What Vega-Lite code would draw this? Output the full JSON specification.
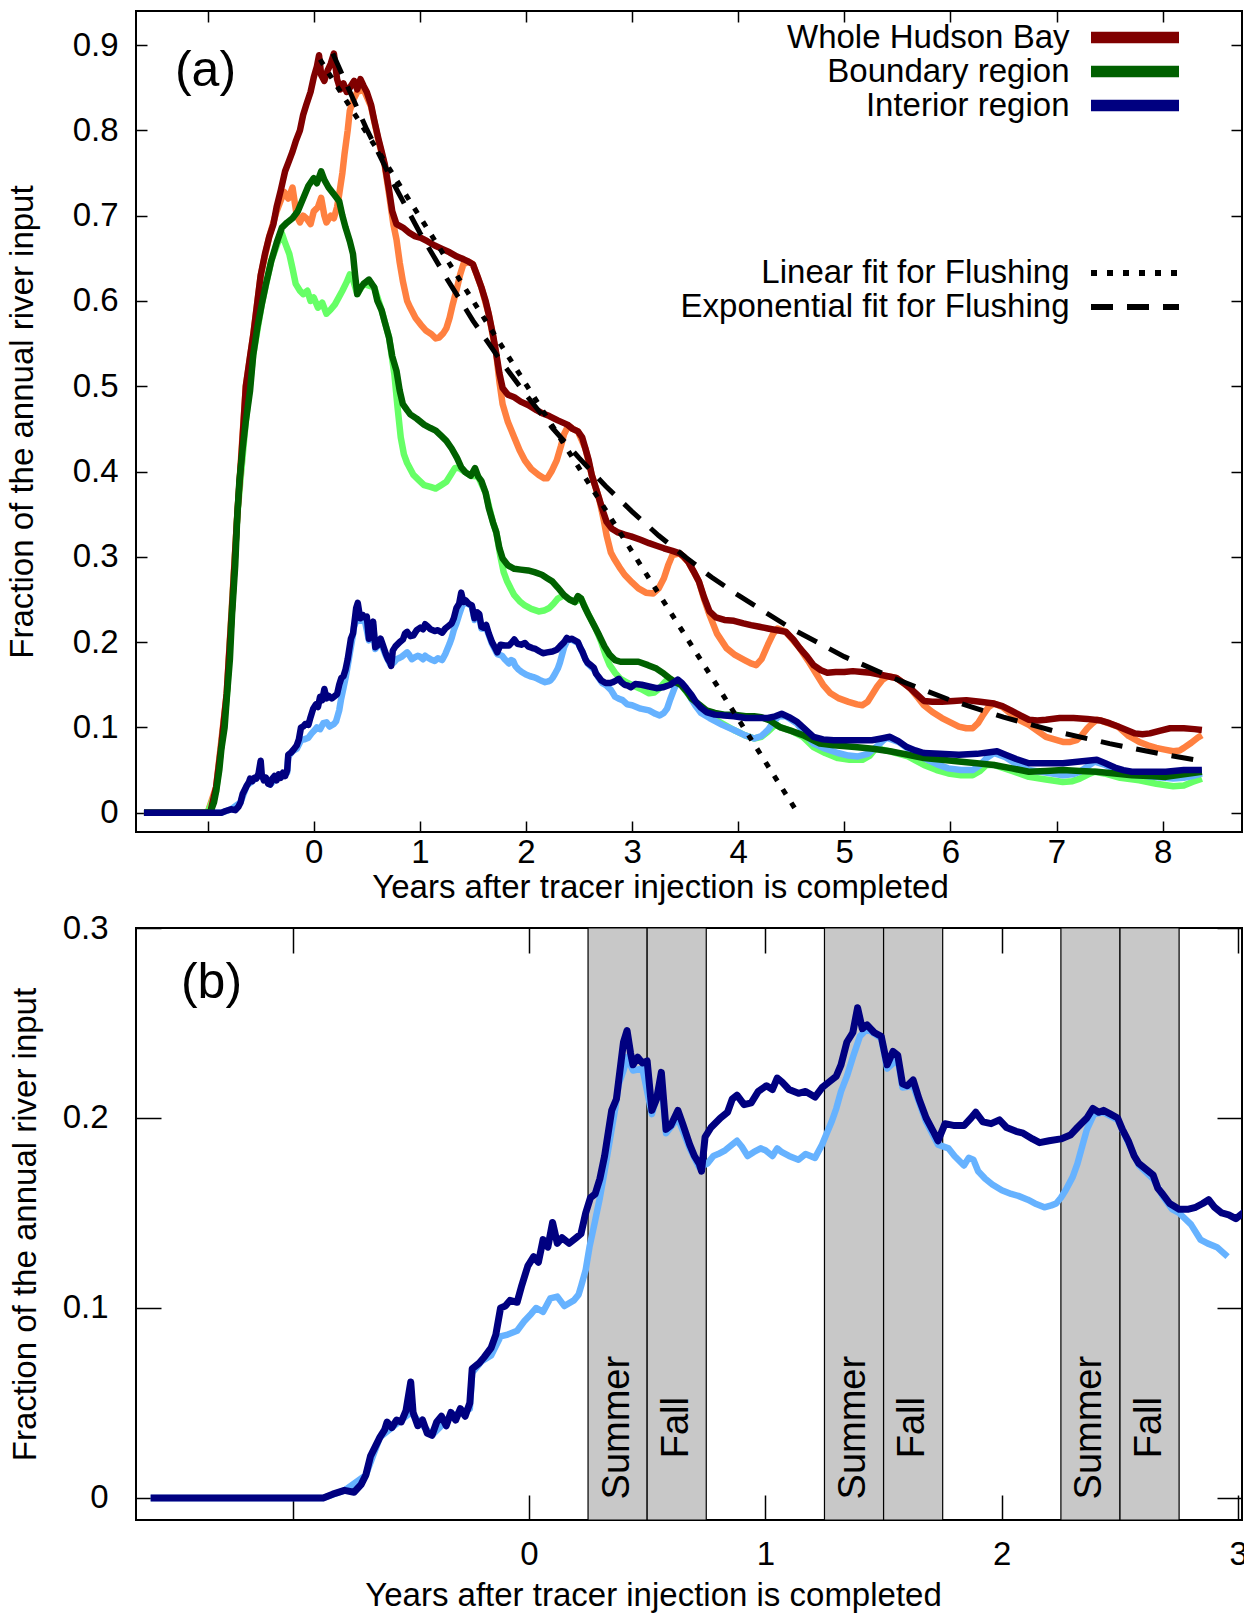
{
  "$schema": "https://vega.github.io/schema/vega-lite/v6.json",
  "background": "white",
  "padding": {"left": 5, "top": 9, "right": 0, "bottom": 0},
  "spacing": 6,
  "config": {
    "font": "Liberation Sans",
    "view": {"stroke": "black", "strokeWidth": 2},
    "axis": {"labelFont": "Liberation Sans", "labelFontSize": 33, "labelColor": "black", "titleFont": "Liberation Sans", "titleFontSize": 33, "titleFontWeight": "normal", "titleColor": "black", "tickColor": "black", "tickWidth": 1.5, "domain": false, "grid": false, "labelFlush": false, "labelOverlap": false},
    "text": {"font": "Liberation Sans", "color": "black"}
  },
  "resolve": {"scale": {"color": "independent", "strokeDash": "independent"}, "legend": {"color": "independent", "strokeDash": "independent"}},
  "datasets": {
    "W": [{"x":-1.6,"y":0},{"x":-1.0,"y":0},{"x":-0.97,"y":0.003},{"x":-0.92,"y":0.03},{"x":-0.87,"y":0.08},{"x":-0.82,"y":0.14},{"x":-0.77,"y":0.24},{"x":-0.72,"y":0.35},{"x":-0.68,"y":0.42},{"x":-0.64,"y":0.5},{"x":-0.6,"y":0.535},{"x":-0.57,"y":0.56},{"x":-0.53,"y":0.6},{"x":-0.5,"y":0.63},{"x":-0.46,"y":0.655},{"x":-0.42,"y":0.675},{"x":-0.38,"y":0.69},{"x":-0.35,"y":0.71},{"x":-0.31,"y":0.73},{"x":-0.27,"y":0.752},{"x":-0.23,"y":0.765},{"x":-0.2,"y":0.775},{"x":-0.17,"y":0.787},{"x":-0.13,"y":0.8},{"x":-0.1,"y":0.818},{"x":-0.07,"y":0.83},{"x":-0.03,"y":0.845},{"x":0,"y":0.862},{"x":0.03,"y":0.875},{"x":0.05,"y":0.888},{"x":0.07,"y":0.865},{"x":0.1,"y":0.858},{"x":0.13,"y":0.87},{"x":0.16,"y":0.878},{"x":0.19,"y":0.89},{"x":0.22,"y":0.86},{"x":0.25,"y":0.848},{"x":0.28,"y":0.855},{"x":0.31,"y":0.845},{"x":0.34,"y":0.85},{"x":0.38,"y":0.858},{"x":0.41,"y":0.848},{"x":0.44,"y":0.86},{"x":0.47,"y":0.852},{"x":0.5,"y":0.845},{"x":0.54,"y":0.83},{"x":0.57,"y":0.812},{"x":0.61,"y":0.79},{"x":0.64,"y":0.775},{"x":0.67,"y":0.76},{"x":0.71,"y":0.73},{"x":0.74,"y":0.705},{"x":0.78,"y":0.69},{"x":0.84,"y":0.686},{"x":0.9,"y":0.68},{"x":0.95,"y":0.676},{"x":1.01,"y":0.674},{"x":1.07,"y":0.67},{"x":1.14,"y":0.665},{"x":1.21,"y":0.661},{"x":1.28,"y":0.657},{"x":1.35,"y":0.652},{"x":1.41,"y":0.649},{"x":1.46,"y":0.646},{"x":1.5,"y":0.643},{"x":1.54,"y":0.63},{"x":1.58,"y":0.616},{"x":1.62,"y":0.6},{"x":1.65,"y":0.584},{"x":1.69,"y":0.56},{"x":1.72,"y":0.538},{"x":1.75,"y":0.515},{"x":1.78,"y":0.498},{"x":1.83,"y":0.49},{"x":1.89,"y":0.487},{"x":1.95,"y":0.482},{"x":2.02,"y":0.478},{"x":2.1,"y":0.472},{"x":2.16,"y":0.468},{"x":2.22,"y":0.465},{"x":2.3,"y":0.46},{"x":2.39,"y":0.455},{"x":2.44,"y":0.45},{"x":2.49,"y":0.447},{"x":2.53,"y":0.44},{"x":2.56,"y":0.427},{"x":2.59,"y":0.414},{"x":2.62,"y":0.396},{"x":2.66,"y":0.38},{"x":2.69,"y":0.368},{"x":2.73,"y":0.352},{"x":2.76,"y":0.341},{"x":2.81,"y":0.333},{"x":2.86,"y":0.329},{"x":2.93,"y":0.326},{"x":2.99,"y":0.324},{"x":3.08,"y":0.32},{"x":3.16,"y":0.316},{"x":3.23,"y":0.313},{"x":3.3,"y":0.31},{"x":3.38,"y":0.307},{"x":3.45,"y":0.304},{"x":3.49,"y":0.3},{"x":3.53,"y":0.294},{"x":3.58,"y":0.283},{"x":3.63,"y":0.271},{"x":3.68,"y":0.252},{"x":3.73,"y":0.236},{"x":3.79,"y":0.229},{"x":3.87,"y":0.226},{"x":3.96,"y":0.225},{"x":4.05,"y":0.222},{"x":4.12,"y":0.22},{"x":4.2,"y":0.218},{"x":4.28,"y":0.216},{"x":4.37,"y":0.214},{"x":4.45,"y":0.212},{"x":4.52,"y":0.203},{"x":4.58,"y":0.193},{"x":4.65,"y":0.183},{"x":4.71,"y":0.173},{"x":4.78,"y":0.167},{"x":4.84,"y":0.164},{"x":4.92,"y":0.165},{"x":5,"y":0.165},{"x":5.08,"y":0.166},{"x":5.17,"y":0.165},{"x":5.25,"y":0.164},{"x":5.33,"y":0.162},{"x":5.41,"y":0.16},{"x":5.49,"y":0.158},{"x":5.56,"y":0.152},{"x":5.62,"y":0.146},{"x":5.69,"y":0.138},{"x":5.75,"y":0.131},{"x":5.83,"y":0.13},{"x":5.92,"y":0.13},{"x":6.03,"y":0.131},{"x":6.15,"y":0.132},{"x":6.28,"y":0.13},{"x":6.41,"y":0.128},{"x":6.49,"y":0.125},{"x":6.57,"y":0.12},{"x":6.66,"y":0.114},{"x":6.74,"y":0.109},{"x":6.82,"y":0.108},{"x":6.9,"y":0.109},{"x":7.03,"y":0.111},{"x":7.16,"y":0.111},{"x":7.29,"y":0.11},{"x":7.42,"y":0.108},{"x":7.5,"y":0.105},{"x":7.58,"y":0.101},{"x":7.66,"y":0.097},{"x":7.74,"y":0.093},{"x":7.81,"y":0.092},{"x":7.88,"y":0.093},{"x":7.97,"y":0.096},{"x":8.07,"y":0.099},{"x":8.2,"y":0.099},{"x":8.3,"y":0.098},{"x":8.37,"y":0.097}],
    "Wl": [{"x":-1.6,"y":0},{"x":-1.0,"y":0},{"x":-0.92,"y":0.03},{"x":-0.82,"y":0.14},{"x":-0.72,"y":0.35},{"x":-0.64,"y":0.5},{"x":-0.57,"y":0.56},{"x":-0.5,"y":0.63},{"x":-0.42,"y":0.675},{"x":-0.35,"y":0.705},{"x":-0.28,"y":0.728},{"x":-0.24,"y":0.72},{"x":-0.2,"y":0.733},{"x":-0.16,"y":0.7},{"x":-0.13,"y":0.692},{"x":-0.1,"y":0.7},{"x":-0.07,"y":0.697},{"x":-0.03,"y":0.69},{"x":0,"y":0.705},{"x":0.04,"y":0.71},{"x":0.07,"y":0.721},{"x":0.1,"y":0.7},{"x":0.12,"y":0.692},{"x":0.16,"y":0.7},{"x":0.19,"y":0.697},{"x":0.22,"y":0.71},{"x":0.24,"y":0.725},{"x":0.27,"y":0.75},{"x":0.29,"y":0.772},{"x":0.32,"y":0.8},{"x":0.34,"y":0.823},{"x":0.37,"y":0.835},{"x":0.41,"y":0.845},{"x":0.47,"y":0.848},{"x":0.54,"y":0.828},{"x":0.61,"y":0.788},{"x":0.67,"y":0.758},{"x":0.71,"y":0.725},{"x":0.75,"y":0.69},{"x":0.78,"y":0.672},{"x":0.81,"y":0.645},{"x":0.84,"y":0.623},{"x":0.88,"y":0.6},{"x":0.91,"y":0.592},{"x":0.96,"y":0.58},{"x":1.01,"y":0.572},{"x":1.06,"y":0.565},{"x":1.11,"y":0.561},{"x":1.15,"y":0.556},{"x":1.18,"y":0.557},{"x":1.22,"y":0.562},{"x":1.25,"y":0.568},{"x":1.28,"y":0.58},{"x":1.31,"y":0.596},{"x":1.35,"y":0.615},{"x":1.38,"y":0.631},{"x":1.41,"y":0.643},{"x":1.46,"y":0.646},{"x":1.5,"y":0.643},{"x":1.58,"y":0.616},{"x":1.65,"y":0.584},{"x":1.72,"y":0.538},{"x":1.75,"y":0.505},{"x":1.78,"y":0.479},{"x":1.83,"y":0.458},{"x":1.89,"y":0.44},{"x":1.94,"y":0.425},{"x":1.99,"y":0.413},{"x":2.05,"y":0.403},{"x":2.12,"y":0.396},{"x":2.17,"y":0.392},{"x":2.2,"y":0.392},{"x":2.24,"y":0.4},{"x":2.29,"y":0.413},{"x":2.33,"y":0.43},{"x":2.36,"y":0.444},{"x":2.4,"y":0.454},{"x":2.44,"y":0.45},{"x":2.49,"y":0.447},{"x":2.56,"y":0.427},{"x":2.62,"y":0.396},{"x":2.69,"y":0.368},{"x":2.73,"y":0.345},{"x":2.76,"y":0.325},{"x":2.8,"y":0.305},{"x":2.83,"y":0.298},{"x":2.88,"y":0.288},{"x":2.93,"y":0.279},{"x":3,"y":0.27},{"x":3.06,"y":0.263},{"x":3.13,"y":0.258},{"x":3.2,"y":0.257},{"x":3.25,"y":0.263},{"x":3.3,"y":0.275},{"x":3.34,"y":0.29},{"x":3.38,"y":0.302},{"x":3.45,"y":0.304},{"x":3.53,"y":0.294},{"x":3.63,"y":0.271},{"x":3.68,"y":0.25},{"x":3.73,"y":0.232},{"x":3.8,"y":0.21},{"x":3.89,"y":0.193},{"x":3.97,"y":0.185},{"x":4.06,"y":0.179},{"x":4.12,"y":0.175},{"x":4.17,"y":0.173},{"x":4.22,"y":0.18},{"x":4.28,"y":0.197},{"x":4.33,"y":0.21},{"x":4.37,"y":0.216},{"x":4.45,"y":0.212},{"x":4.58,"y":0.193},{"x":4.66,"y":0.178},{"x":4.74,"y":0.162},{"x":4.8,"y":0.15},{"x":4.87,"y":0.14},{"x":4.95,"y":0.134},{"x":5.04,"y":0.13},{"x":5.12,"y":0.127},{"x":5.17,"y":0.126},{"x":5.22,"y":0.13},{"x":5.26,"y":0.138},{"x":5.31,"y":0.148},{"x":5.36,"y":0.156},{"x":5.41,"y":0.16},{"x":5.49,"y":0.158},{"x":5.62,"y":0.146},{"x":5.7,"y":0.134},{"x":5.75,"y":0.126},{"x":5.83,"y":0.118},{"x":5.92,"y":0.111},{"x":6,"y":0.106},{"x":6.08,"y":0.101},{"x":6.15,"y":0.099},{"x":6.21,"y":0.099},{"x":6.26,"y":0.105},{"x":6.31,"y":0.115},{"x":6.36,"y":0.124},{"x":6.41,"y":0.128},{"x":6.49,"y":0.124},{"x":6.57,"y":0.116},{"x":6.66,"y":0.108},{"x":6.74,"y":0.103},{"x":6.82,"y":0.096},{"x":6.9,"y":0.089},{"x":6.98,"y":0.086},{"x":7.06,"y":0.083},{"x":7.13,"y":0.083},{"x":7.19,"y":0.085},{"x":7.24,"y":0.091},{"x":7.29,"y":0.099},{"x":7.34,"y":0.105},{"x":7.38,"y":0.109},{"x":7.42,"y":0.108},{"x":7.58,"y":0.101},{"x":7.68,"y":0.09},{"x":7.78,"y":0.083},{"x":7.86,"y":0.079},{"x":7.94,"y":0.076},{"x":8.02,"y":0.074},{"x":8.1,"y":0.072},{"x":8.16,"y":0.073},{"x":8.2,"y":0.076},{"x":8.27,"y":0.082},{"x":8.33,"y":0.088},{"x":8.37,"y":0.091}],
    "B": [{"x":-1.6,"y":0},{"x":-1.0,"y":0},{"x":-0.97,"y":0.002},{"x":-0.94,"y":0.012},{"x":-0.92,"y":0.025},{"x":-0.89,"y":0.05},{"x":-0.87,"y":0.075},{"x":-0.84,"y":0.1},{"x":-0.82,"y":0.134},{"x":-0.79,"y":0.18},{"x":-0.77,"y":0.232},{"x":-0.74,"y":0.29},{"x":-0.72,"y":0.349},{"x":-0.7,"y":0.39},{"x":-0.67,"y":0.427},{"x":-0.64,"y":0.459},{"x":-0.6,"y":0.495},{"x":-0.57,"y":0.537},{"x":-0.53,"y":0.57},{"x":-0.49,"y":0.596},{"x":-0.45,"y":0.62},{"x":-0.4,"y":0.647},{"x":-0.35,"y":0.668},{"x":-0.3,"y":0.686},{"x":-0.25,"y":0.692},{"x":-0.2,"y":0.697},{"x":-0.15,"y":0.705},{"x":-0.1,"y":0.72},{"x":-0.05,"y":0.735},{"x":0,"y":0.744},{"x":0.03,"y":0.738},{"x":0.07,"y":0.752},{"x":0.1,"y":0.742},{"x":0.14,"y":0.733},{"x":0.19,"y":0.725},{"x":0.24,"y":0.717},{"x":0.27,"y":0.7},{"x":0.3,"y":0.686},{"x":0.34,"y":0.67},{"x":0.37,"y":0.655},{"x":0.39,"y":0.63},{"x":0.41,"y":0.608},{"x":0.44,"y":0.615},{"x":0.47,"y":0.62},{"x":0.52,"y":0.625},{"x":0.57,"y":0.616},{"x":0.6,"y":0.6},{"x":0.64,"y":0.589},{"x":0.67,"y":0.575},{"x":0.71,"y":0.557},{"x":0.74,"y":0.535},{"x":0.78,"y":0.518},{"x":0.81,"y":0.495},{"x":0.84,"y":0.479},{"x":0.88,"y":0.472},{"x":0.91,"y":0.467},{"x":0.97,"y":0.462},{"x":1.04,"y":0.455},{"x":1.1,"y":0.451},{"x":1.15,"y":0.448},{"x":1.2,"y":0.442},{"x":1.25,"y":0.436},{"x":1.3,"y":0.427},{"x":1.35,"y":0.416},{"x":1.39,"y":0.405},{"x":1.43,"y":0.399},{"x":1.48,"y":0.395},{"x":1.52,"y":0.404},{"x":1.55,"y":0.394},{"x":1.58,"y":0.389},{"x":1.62,"y":0.375},{"x":1.65,"y":0.357},{"x":1.69,"y":0.34},{"x":1.72,"y":0.329},{"x":1.75,"y":0.31},{"x":1.78,"y":0.298},{"x":1.83,"y":0.29},{"x":1.89,"y":0.286},{"x":1.95,"y":0.285},{"x":2.02,"y":0.284},{"x":2.08,"y":0.282},{"x":2.15,"y":0.279},{"x":2.2,"y":0.275},{"x":2.25,"y":0.271},{"x":2.3,"y":0.264},{"x":2.36,"y":0.255},{"x":2.41,"y":0.25},{"x":2.46,"y":0.247},{"x":2.49,"y":0.254},{"x":2.52,"y":0.251},{"x":2.55,"y":0.242},{"x":2.59,"y":0.232},{"x":2.64,"y":0.22},{"x":2.69,"y":0.208},{"x":2.74,"y":0.195},{"x":2.79,"y":0.185},{"x":2.84,"y":0.179},{"x":2.89,"y":0.177},{"x":2.97,"y":0.177},{"x":3.06,"y":0.177},{"x":3.15,"y":0.173},{"x":3.23,"y":0.169},{"x":3.3,"y":0.163},{"x":3.36,"y":0.157},{"x":3.41,"y":0.153},{"x":3.46,"y":0.15},{"x":3.51,"y":0.143},{"x":3.56,"y":0.134},{"x":3.63,"y":0.127},{"x":3.7,"y":0.12},{"x":3.78,"y":0.117},{"x":3.87,"y":0.115},{"x":3.96,"y":0.115},{"x":4.07,"y":0.113},{"x":4.15,"y":0.113},{"x":4.22,"y":0.112},{"x":4.3,"y":0.108},{"x":4.36,"y":0.103},{"x":4.4,"y":0.1},{"x":4.5,"y":0.096},{"x":4.61,"y":0.091},{"x":4.69,"y":0.086},{"x":4.77,"y":0.081},{"x":4.9,"y":0.079},{"x":5.1,"y":0.077},{"x":5.27,"y":0.075},{"x":5.43,"y":0.072},{"x":5.6,"y":0.068},{"x":5.75,"y":0.064},{"x":5.92,"y":0.062},{"x":6.08,"y":0.06},{"x":6.25,"y":0.058},{"x":6.41,"y":0.056},{"x":6.58,"y":0.052},{"x":6.74,"y":0.048},{"x":6.9,"y":0.049},{"x":7.06,"y":0.05},{"x":7.22,"y":0.049},{"x":7.38,"y":0.048},{"x":7.55,"y":0.046},{"x":7.71,"y":0.044},{"x":7.87,"y":0.043},{"x":8.03,"y":0.042},{"x":8.2,"y":0.045},{"x":8.37,"y":0.048}],
    "Bl": [{"x":-1.6,"y":0},{"x":-1.0,"y":0},{"x":-0.92,"y":0.025},{"x":-0.82,"y":0.134},{"x":-0.72,"y":0.349},{"x":-0.64,"y":0.459},{"x":-0.57,"y":0.537},{"x":-0.49,"y":0.596},{"x":-0.4,"y":0.647},{"x":-0.34,"y":0.668},{"x":-0.3,"y":0.679},{"x":-0.27,"y":0.668},{"x":-0.23,"y":0.655},{"x":-0.2,"y":0.638},{"x":-0.17,"y":0.62},{"x":-0.13,"y":0.612},{"x":-0.1,"y":0.608},{"x":-0.06,"y":0.612},{"x":-0.03,"y":0.6},{"x":0,"y":0.604},{"x":0.04,"y":0.592},{"x":0.08,"y":0.598},{"x":0.12,"y":0.585},{"x":0.16,"y":0.59},{"x":0.2,"y":0.596},{"x":0.24,"y":0.605},{"x":0.27,"y":0.612},{"x":0.31,"y":0.622},{"x":0.34,"y":0.631},{"x":0.37,"y":0.625},{"x":0.41,"y":0.608},{"x":0.47,"y":0.62},{"x":0.57,"y":0.616},{"x":0.64,"y":0.589},{"x":0.71,"y":0.557},{"x":0.76,"y":0.514},{"x":0.79,"y":0.475},{"x":0.82,"y":0.44},{"x":0.85,"y":0.42},{"x":0.88,"y":0.41},{"x":0.94,"y":0.396},{"x":0.99,"y":0.39},{"x":1.04,"y":0.384},{"x":1.1,"y":0.382},{"x":1.15,"y":0.38},{"x":1.2,"y":0.384},{"x":1.25,"y":0.388},{"x":1.29,"y":0.396},{"x":1.33,"y":0.404},{"x":1.37,"y":0.404},{"x":1.43,"y":0.399},{"x":1.48,"y":0.395},{"x":1.55,"y":0.394},{"x":1.62,"y":0.375},{"x":1.69,"y":0.34},{"x":1.72,"y":0.329},{"x":1.76,"y":0.3},{"x":1.79,"y":0.282},{"x":1.82,"y":0.272},{"x":1.86,"y":0.262},{"x":1.89,"y":0.255},{"x":1.94,"y":0.248},{"x":1.99,"y":0.243},{"x":2.05,"y":0.239},{"x":2.12,"y":0.236},{"x":2.17,"y":0.237},{"x":2.22,"y":0.24},{"x":2.26,"y":0.245},{"x":2.3,"y":0.251},{"x":2.36,"y":0.255},{"x":2.41,"y":0.25},{"x":2.46,"y":0.247},{"x":2.52,"y":0.251},{"x":2.59,"y":0.232},{"x":2.66,"y":0.215},{"x":2.71,"y":0.2},{"x":2.75,"y":0.185},{"x":2.79,"y":0.173},{"x":2.84,"y":0.164},{"x":2.89,"y":0.157},{"x":2.96,"y":0.152},{"x":3.03,"y":0.148},{"x":3.1,"y":0.144},{"x":3.16,"y":0.14},{"x":3.21,"y":0.141},{"x":3.26,"y":0.146},{"x":3.3,"y":0.152},{"x":3.34,"y":0.157},{"x":3.41,"y":0.153},{"x":3.46,"y":0.15},{"x":3.56,"y":0.134},{"x":3.63,"y":0.124},{"x":3.7,"y":0.115},{"x":3.76,"y":0.111},{"x":3.86,"y":0.104},{"x":3.96,"y":0.097},{"x":4.06,"y":0.091},{"x":4.15,"y":0.087},{"x":4.22,"y":0.089},{"x":4.28,"y":0.095},{"x":4.33,"y":0.101},{"x":4.36,"y":0.103},{"x":4.4,"y":0.1},{"x":4.5,"y":0.096},{"x":4.61,"y":0.089},{"x":4.71,"y":0.077},{"x":4.82,"y":0.07},{"x":4.94,"y":0.064},{"x":5.05,"y":0.062},{"x":5.17,"y":0.062},{"x":5.24,"y":0.067},{"x":5.3,"y":0.076},{"x":5.36,"y":0.074},{"x":5.43,"y":0.072},{"x":5.6,"y":0.066},{"x":5.75,"y":0.056},{"x":5.87,"y":0.05},{"x":5.98,"y":0.046},{"x":6.1,"y":0.044},{"x":6.21,"y":0.044},{"x":6.28,"y":0.049},{"x":6.34,"y":0.056},{"x":6.41,"y":0.056},{"x":6.58,"y":0.049},{"x":6.74,"y":0.042},{"x":6.9,"y":0.039},{"x":7.06,"y":0.036},{"x":7.15,"y":0.037},{"x":7.22,"y":0.04},{"x":7.3,"y":0.045},{"x":7.36,"y":0.048},{"x":7.45,"y":0.046},{"x":7.6,"y":0.041},{"x":7.78,"y":0.038},{"x":7.94,"y":0.034},{"x":8.1,"y":0.031},{"x":8.2,"y":0.032},{"x":8.28,"y":0.036},{"x":8.37,"y":0.04}],
    "I": [{"x":-1.6,"y":0},{"x":-0.87,"y":0},{"x":-0.83,"y":0.002},{"x":-0.78,"y":0.004},{"x":-0.74,"y":0.003},{"x":-0.71,"y":0.007},{"x":-0.69,"y":0.012},{"x":-0.67,"y":0.022},{"x":-0.65,"y":0.027},{"x":-0.63,"y":0.032},{"x":-0.61,"y":0.036},{"x":-0.6,"y":0.04},{"x":-0.58,"y":0.037},{"x":-0.56,"y":0.041},{"x":-0.54,"y":0.04},{"x":-0.52,"y":0.046},{"x":-0.5,"y":0.061},{"x":-0.49,"y":0.045},{"x":-0.47,"y":0.038},{"x":-0.45,"y":0.041},{"x":-0.43,"y":0.034},{"x":-0.41,"y":0.033},{"x":-0.39,"y":0.04},{"x":-0.37,"y":0.043},{"x":-0.35,"y":0.038},{"x":-0.33,"y":0.045},{"x":-0.31,"y":0.041},{"x":-0.29,"y":0.047},{"x":-0.27,"y":0.043},{"x":-0.25,"y":0.05},{"x":-0.24,"y":0.068},{"x":-0.21,"y":0.071},{"x":-0.19,"y":0.074},{"x":-0.16,"y":0.079},{"x":-0.14,"y":0.086},{"x":-0.12,"y":0.1},{"x":-0.1,"y":0.101},{"x":-0.08,"y":0.104},{"x":-0.05,"y":0.103},{"x":-0.03,"y":0.112},{"x":-0.005,"y":0.122},{"x":0.02,"y":0.127},{"x":0.04,"y":0.124},{"x":0.06,"y":0.136},{"x":0.08,"y":0.132},{"x":0.1,"y":0.145},{"x":0.12,"y":0.134},{"x":0.14,"y":0.137},{"x":0.17,"y":0.134},{"x":0.2,"y":0.137},{"x":0.22,"y":0.139},{"x":0.24,"y":0.15},{"x":0.26,"y":0.158},{"x":0.28,"y":0.16},{"x":0.3,"y":0.168},{"x":0.32,"y":0.18},{"x":0.35,"y":0.204},{"x":0.37,"y":0.21},{"x":0.39,"y":0.23},{"x":0.4,"y":0.24},{"x":0.415,"y":0.246},{"x":0.43,"y":0.234},{"x":0.44,"y":0.228},{"x":0.46,"y":0.232},{"x":0.48,"y":0.229},{"x":0.5,"y":0.23},{"x":0.52,"y":0.204},{"x":0.54,"y":0.21},{"x":0.56,"y":0.224},{"x":0.58,"y":0.194},{"x":0.6,"y":0.196},{"x":0.63,"y":0.204},{"x":0.65,"y":0.197},{"x":0.68,"y":0.186},{"x":0.7,"y":0.18},{"x":0.72,"y":0.176},{"x":0.73,"y":0.172},{"x":0.745,"y":0.19},{"x":0.77,"y":0.195},{"x":0.81,"y":0.2},{"x":0.84,"y":0.203},{"x":0.86,"y":0.21},{"x":0.88,"y":0.212},{"x":0.91,"y":0.207},{"x":0.94,"y":0.208},{"x":0.97,"y":0.214},{"x":1.005,"y":0.217},{"x":1.03,"y":0.215},{"x":1.05,"y":0.221},{"x":1.07,"y":0.219},{"x":1.1,"y":0.215},{"x":1.14,"y":0.213},{"x":1.17,"y":0.214},{"x":1.21,"y":0.211},{"x":1.24,"y":0.216},{"x":1.27,"y":0.219},{"x":1.3,"y":0.222},{"x":1.32,"y":0.228},{"x":1.345,"y":0.24},{"x":1.37,"y":0.245},{"x":1.39,"y":0.258},{"x":1.41,"y":0.247},{"x":1.43,"y":0.249},{"x":1.46,"y":0.245},{"x":1.49,"y":0.243},{"x":1.515,"y":0.228},{"x":1.54,"y":0.235},{"x":1.56,"y":0.233},{"x":1.58,"y":0.218},{"x":1.6,"y":0.217},{"x":1.625,"y":0.22},{"x":1.65,"y":0.21},{"x":1.68,"y":0.2},{"x":1.71,"y":0.193},{"x":1.73,"y":0.188},{"x":1.76,"y":0.197},{"x":1.8,"y":0.196},{"x":1.84,"y":0.196},{"x":1.87,"y":0.2},{"x":1.89,"y":0.203},{"x":1.92,"y":0.198},{"x":1.955,"y":0.197},{"x":1.99,"y":0.199},{"x":2.02,"y":0.195},{"x":2.06,"y":0.193},{"x":2.09,"y":0.192},{"x":2.13,"y":0.189},{"x":2.16,"y":0.187},{"x":2.2,"y":0.188},{"x":2.25,"y":0.189},{"x":2.29,"y":0.191},{"x":2.32,"y":0.195},{"x":2.36,"y":0.2},{"x":2.385,"y":0.205},{"x":2.41,"y":0.203},{"x":2.43,"y":0.204},{"x":2.46,"y":0.202},{"x":2.49,"y":0.2},{"x":2.51,"y":0.194},{"x":2.535,"y":0.188},{"x":2.56,"y":0.18},{"x":2.58,"y":0.176},{"x":2.61,"y":0.173},{"x":2.64,"y":0.17},{"x":2.66,"y":0.163},{"x":2.68,"y":0.16},{"x":2.71,"y":0.155},{"x":2.75,"y":0.152},{"x":2.79,"y":0.152},{"x":2.82,"y":0.153},{"x":2.85,"y":0.155},{"x":2.875,"y":0.157},{"x":2.9,"y":0.153},{"x":2.93,"y":0.15},{"x":2.96,"y":0.149},{"x":2.99,"y":0.147},{"x":3.03,"y":0.151},{"x":3.09,"y":0.15},{"x":3.16,"y":0.148},{"x":3.23,"y":0.146},{"x":3.29,"y":0.147},{"x":3.36,"y":0.15},{"x":3.43,"y":0.156},{"x":3.47,"y":0.152},{"x":3.51,"y":0.146},{"x":3.56,"y":0.138},{"x":3.6,"y":0.13},{"x":3.65,"y":0.123},{"x":3.7,"y":0.118},{"x":3.78,"y":0.115},{"x":3.87,"y":0.114},{"x":3.96,"y":0.113},{"x":4.07,"y":0.111},{"x":4.17,"y":0.111},{"x":4.28,"y":0.111},{"x":4.35,"y":0.113},{"x":4.41,"y":0.116},{"x":4.48,"y":0.112},{"x":4.55,"y":0.107},{"x":4.63,"y":0.098},{"x":4.71,"y":0.089},{"x":4.8,"y":0.086},{"x":4.9,"y":0.085},{"x":5,"y":0.085},{"x":5.13,"y":0.085},{"x":5.26,"y":0.085},{"x":5.35,"y":0.087},{"x":5.43,"y":0.089},{"x":5.51,"y":0.084},{"x":5.59,"y":0.077},{"x":5.67,"y":0.073},{"x":5.75,"y":0.07},{"x":5.9,"y":0.069},{"x":6.08,"y":0.068},{"x":6.25,"y":0.069},{"x":6.37,"y":0.071},{"x":6.44,"y":0.072},{"x":6.52,"y":0.068},{"x":6.62,"y":0.063},{"x":6.74,"y":0.058},{"x":6.9,"y":0.058},{"x":7.06,"y":0.058},{"x":7.22,"y":0.06},{"x":7.38,"y":0.062},{"x":7.46,"y":0.058},{"x":7.55,"y":0.053},{"x":7.63,"y":0.05},{"x":7.71,"y":0.048},{"x":7.87,"y":0.048},{"x":8.03,"y":0.048},{"x":8.2,"y":0.05},{"x":8.37,"y":0.05}],
    "Il": [{"x":-1.6,"y":0},{"x":-0.87,"y":0},{"x":-0.78,"y":0.004},{"x":-0.69,"y":0.012},{"x":-0.63,"y":0.032},{"x":-0.58,"y":0.037},{"x":-0.5,"y":0.045},{"x":-0.41,"y":0.033},{"x":-0.33,"y":0.043},{"x":-0.25,"y":0.047},{"x":-0.24,"y":0.066},{"x":-0.2,"y":0.072},{"x":-0.16,"y":0.075},{"x":-0.12,"y":0.085},{"x":-0.09,"y":0.086},{"x":-0.05,"y":0.088},{"x":-0.02,"y":0.093},{"x":0.01,"y":0.097},{"x":0.03,"y":0.1},{"x":0.06,"y":0.098},{"x":0.09,"y":0.105},{"x":0.12,"y":0.106},{"x":0.15,"y":0.101},{"x":0.19,"y":0.104},{"x":0.21,"y":0.107},{"x":0.222,"y":0.112},{"x":0.24,"y":0.12},{"x":0.256,"y":0.132},{"x":0.28,"y":0.146},{"x":0.3,"y":0.158},{"x":0.32,"y":0.172},{"x":0.347,"y":0.192},{"x":0.365,"y":0.205},{"x":0.38,"y":0.218},{"x":0.4,"y":0.225},{"x":0.415,"y":0.232},{"x":0.44,"y":0.225},{"x":0.48,"y":0.226},{"x":0.52,"y":0.202},{"x":0.56,"y":0.22},{"x":0.58,"y":0.192},{"x":0.63,"y":0.2},{"x":0.68,"y":0.184},{"x":0.72,"y":0.174},{"x":0.755,"y":0.176},{"x":0.78,"y":0.18},{"x":0.8,"y":0.181},{"x":0.83,"y":0.183},{"x":0.86,"y":0.186},{"x":0.88,"y":0.188},{"x":0.9,"y":0.185},{"x":0.925,"y":0.18},{"x":0.95,"y":0.182},{"x":0.98,"y":0.184},{"x":1.0,"y":0.183},{"x":1.03,"y":0.18},{"x":1.05,"y":0.184},{"x":1.07,"y":0.182},{"x":1.1,"y":0.18},{"x":1.14,"y":0.178},{"x":1.17,"y":0.181},{"x":1.21,"y":0.179},{"x":1.24,"y":0.186},{"x":1.28,"y":0.198},{"x":1.3,"y":0.205},{"x":1.32,"y":0.214},{"x":1.345,"y":0.222},{"x":1.37,"y":0.232},{"x":1.4,"y":0.243},{"x":1.43,"y":0.247},{"x":1.49,"y":0.242},{"x":1.515,"y":0.226},{"x":1.56,"y":0.231},{"x":1.58,"y":0.216},{"x":1.625,"y":0.217},{"x":1.68,"y":0.198},{"x":1.73,"y":0.186},{"x":1.775,"y":0.184},{"x":1.8,"y":0.18},{"x":1.84,"y":0.175},{"x":1.86,"y":0.179},{"x":1.88,"y":0.178},{"x":1.9,"y":0.172},{"x":1.93,"y":0.168},{"x":1.96,"y":0.165},{"x":2.0,"y":0.162},{"x":2.04,"y":0.16},{"x":2.07,"y":0.159},{"x":2.11,"y":0.157},{"x":2.14,"y":0.155},{"x":2.18,"y":0.153},{"x":2.21,"y":0.154},{"x":2.23,"y":0.155},{"x":2.25,"y":0.158},{"x":2.27,"y":0.162},{"x":2.3,"y":0.169},{"x":2.32,"y":0.176},{"x":2.34,"y":0.185},{"x":2.36,"y":0.194},{"x":2.39,"y":0.202},{"x":2.43,"y":0.203},{"x":2.49,"y":0.199},{"x":2.535,"y":0.187},{"x":2.58,"y":0.175},{"x":2.64,"y":0.168},{"x":2.68,"y":0.159},{"x":2.72,"y":0.152},{"x":2.75,"y":0.15},{"x":2.8,"y":0.144},{"x":2.84,"y":0.136},{"x":2.87,"y":0.134},{"x":2.91,"y":0.132},{"x":2.955,"y":0.127},{"x":3.0,"y":0.126},{"x":3.08,"y":0.122},{"x":3.16,"y":0.12},{"x":3.22,"y":0.116},{"x":3.26,"y":0.114},{"x":3.3,"y":0.117},{"x":3.33,"y":0.122},{"x":3.36,"y":0.133},{"x":3.4,"y":0.146},{"x":3.43,"y":0.154},{"x":3.47,"y":0.151},{"x":3.51,"y":0.145},{"x":3.56,"y":0.133},{"x":3.6,"y":0.125},{"x":3.65,"y":0.117},{"x":3.73,"y":0.111},{"x":3.85,"y":0.103},{"x":3.96,"y":0.097},{"x":4.06,"y":0.091},{"x":4.15,"y":0.087},{"x":4.22,"y":0.09},{"x":4.28,"y":0.097},{"x":4.33,"y":0.106},{"x":4.38,"y":0.113},{"x":4.45,"y":0.113},{"x":4.55,"y":0.105},{"x":4.63,"y":0.093},{"x":4.71,"y":0.081},{"x":4.82,"y":0.075},{"x":4.94,"y":0.07},{"x":5.04,"y":0.067},{"x":5.13,"y":0.066},{"x":5.22,"y":0.069},{"x":5.3,"y":0.077},{"x":5.36,"y":0.084},{"x":5.4,"y":0.088},{"x":5.51,"y":0.083},{"x":5.59,"y":0.076},{"x":5.67,"y":0.069},{"x":5.75,"y":0.064},{"x":5.87,"y":0.057},{"x":5.98,"y":0.052},{"x":6.1,"y":0.05},{"x":6.21,"y":0.05},{"x":6.28,"y":0.056},{"x":6.34,"y":0.064},{"x":6.41,"y":0.07},{"x":6.52,"y":0.065},{"x":6.62,"y":0.057},{"x":6.74,"y":0.05},{"x":6.9,"y":0.047},{"x":7.06,"y":0.044},{"x":7.15,"y":0.045},{"x":7.22,"y":0.048},{"x":7.3,"y":0.055},{"x":7.36,"y":0.06},{"x":7.46,"y":0.056},{"x":7.55,"y":0.051},{"x":7.66,"y":0.046},{"x":7.78,"y":0.044},{"x":7.94,"y":0.042},{"x":8.1,"y":0.04},{"x":8.2,"y":0.041},{"x":8.28,"y":0.043},{"x":8.37,"y":0.046}],
    "fits": [{"fit":"Linear fit for Flushing","x":0.06,"y":0.883},{"fit":"Linear fit for Flushing","x":4.56,"y":0},{"fit":"Exponential fit for Flushing","x":0.18,"y":0.89},{"fit":"Exponential fit for Flushing","x":0.5,"y":0.801},{"fit":"Exponential fit for Flushing","x":0.75,"y":0.738},{"fit":"Exponential fit for Flushing","x":1.0,"y":0.68},{"fit":"Exponential fit for Flushing","x":1.25,"y":0.627},{"fit":"Exponential fit for Flushing","x":1.5,"y":0.577},{"fit":"Exponential fit for Flushing","x":1.75,"y":0.532},{"fit":"Exponential fit for Flushing","x":2.0,"y":0.49},{"fit":"Exponential fit for Flushing","x":2.25,"y":0.451},{"fit":"Exponential fit for Flushing","x":2.5,"y":0.416},{"fit":"Exponential fit for Flushing","x":2.75,"y":0.383},{"fit":"Exponential fit for Flushing","x":3.0,"y":0.353},{"fit":"Exponential fit for Flushing","x":3.25,"y":0.325},{"fit":"Exponential fit for Flushing","x":3.5,"y":0.3},{"fit":"Exponential fit for Flushing","x":3.75,"y":0.276},{"fit":"Exponential fit for Flushing","x":4.0,"y":0.255},{"fit":"Exponential fit for Flushing","x":4.5,"y":0.216},{"fit":"Exponential fit for Flushing","x":5.0,"y":0.183},{"fit":"Exponential fit for Flushing","x":5.5,"y":0.156},{"fit":"Exponential fit for Flushing","x":6.0,"y":0.132},{"fit":"Exponential fit for Flushing","x":6.5,"y":0.112},{"fit":"Exponential fit for Flushing","x":7.0,"y":0.095},{"fit":"Exponential fit for Flushing","x":7.5,"y":0.081},{"fit":"Exponential fit for Flushing","x":8.0,"y":0.0685},{"fit":"Exponential fit for Flushing","x":8.4,"y":0.06}],
    "seasons": [{"season":"Summer","start":0.25,"end":0.5},{"season":"Fall","start":0.5,"end":0.75},{"season":"Summer","start":1.25,"end":1.5},{"season":"Fall","start":1.5,"end":1.75},{"season":"Summer","start":2.25,"end":2.5},{"season":"Fall","start":2.5,"end":2.75}]
  },
  "vconcat": [
    {
      "width": 1106,
      "height": 821,
      "resolve": {"axis": {"x": "independent", "y": "independent"}},
      "layer": [
        {
          "data": {"name": "Wl"},
          "mark": {"type": "line", "strokeWidth": 6.5, "clip": true, "strokeJoin": "round"},
          "encoding": {
            "x": {"field": "x", "type": "quantitative", "scale": {"domain": [-1.675, 8.748], "nice": false, "zero": false},
                  "axis": {"orient": "bottom", "values": [-1,0,1,2,3,4,5,6,7,8], "format": "d", "labelExpr": "datum.value < 0 ? '' : datum.label", "tickSize": -11, "labelPadding": 15, "title": "Years after tracer injection is completed", "titlePadding": 2, "titleX": 524}},
            "y": {"field": "y", "type": "quantitative", "scale": {"domain": [-0.0226, 0.9399], "nice": false, "zero": false},
                  "axis": {"orient": "left", "values": [0,0.1,0.2,0.3,0.4,0.5,0.6,0.7,0.8,0.9], "format": ".1~f", "tickSize": -11, "labelPadding": 29, "title": "Fraction of the annual river input", "titlePadding": 33}},
            "color": {"datum": "Whole Hudson Bay (light)", "scale": {"domain": ["Whole Hudson Bay", "Boundary region", "Interior region", "Whole Hudson Bay (light)", "Boundary region (light)", "Interior region (light)"], "range": ["#800000", "#006000", "#000080", "#ff8040", "#66ff66", "#66b2ff"]},
                      "legend": {"orient": "none", "legendX": 982.5, "legendY": 10, "title": null, "values": ["Whole Hudson Bay", "Boundary region", "Interior region"], "symbolType": "M-8,-0.5L8,-0.5M-8,0.5L8,0.5", "symbolStrokeWidth": 6, "symbolSize": 121, "labelFont": "Liberation Sans", "labelFontSize": 33, "labelColor": "black", "labelAlign": "right", "labelOffset": -82, "labelLimit": 800, "rowPadding": 0}}
          }
        },
        {
          "data": {"name": "Bl"},
          "mark": {"type": "line", "strokeWidth": 6.5, "clip": true, "strokeJoin": "round"},
          "encoding": {
            "x": {"field": "x", "type": "quantitative", "scale": {"domain": [-1.675, 8.748], "nice": false, "zero": false}, "axis": null},
            "y": {"field": "y", "type": "quantitative", "scale": {"domain": [-0.0226, 0.9399], "nice": false, "zero": false}, "axis": null},
            "color": {"datum": "Boundary region (light)", "scale": {"domain": ["Whole Hudson Bay", "Boundary region", "Interior region", "Whole Hudson Bay (light)", "Boundary region (light)", "Interior region (light)"], "range": ["#800000", "#006000", "#000080", "#ff8040", "#66ff66", "#66b2ff"]}}
          }
        },
        {
          "data": {"name": "Il"},
          "mark": {"type": "line", "strokeWidth": 6.5, "clip": true, "strokeJoin": "round"},
          "encoding": {
            "x": {"field": "x", "type": "quantitative", "scale": {"domain": [-1.675, 8.748], "nice": false, "zero": false}, "axis": null},
            "y": {"field": "y", "type": "quantitative", "scale": {"domain": [-0.0226, 0.9399], "nice": false, "zero": false}, "axis": null},
            "color": {"datum": "Interior region (light)", "scale": {"domain": ["Whole Hudson Bay", "Boundary region", "Interior region", "Whole Hudson Bay (light)", "Boundary region (light)", "Interior region (light)"], "range": ["#800000", "#006000", "#000080", "#ff8040", "#66ff66", "#66b2ff"]}}
          }
        },
        {
          "data": {"name": "W"},
          "mark": {"type": "line", "strokeWidth": 6.5, "clip": true, "strokeJoin": "round"},
          "encoding": {
            "x": {"field": "x", "type": "quantitative", "scale": {"domain": [-1.675, 8.748], "nice": false, "zero": false}, "axis": null},
            "y": {"field": "y", "type": "quantitative", "scale": {"domain": [-0.0226, 0.9399], "nice": false, "zero": false}, "axis": null},
            "color": {"datum": "Whole Hudson Bay", "scale": {"domain": ["Whole Hudson Bay", "Boundary region", "Interior region", "Whole Hudson Bay (light)", "Boundary region (light)", "Interior region (light)"], "range": ["#800000", "#006000", "#000080", "#ff8040", "#66ff66", "#66b2ff"]}}
          }
        },
        {
          "data": {"name": "B"},
          "mark": {"type": "line", "strokeWidth": 6.5, "clip": true, "strokeJoin": "round"},
          "encoding": {
            "x": {"field": "x", "type": "quantitative", "scale": {"domain": [-1.675, 8.748], "nice": false, "zero": false}, "axis": null},
            "y": {"field": "y", "type": "quantitative", "scale": {"domain": [-0.0226, 0.9399], "nice": false, "zero": false}, "axis": null},
            "color": {"datum": "Boundary region", "scale": {"domain": ["Whole Hudson Bay", "Boundary region", "Interior region", "Whole Hudson Bay (light)", "Boundary region (light)", "Interior region (light)"], "range": ["#800000", "#006000", "#000080", "#ff8040", "#66ff66", "#66b2ff"]}}
          }
        },
        {
          "data": {"name": "I"},
          "mark": {"type": "line", "strokeWidth": 6.5, "clip": true, "strokeJoin": "round"},
          "encoding": {
            "x": {"field": "x", "type": "quantitative", "scale": {"domain": [-1.675, 8.748], "nice": false, "zero": false}, "axis": null},
            "y": {"field": "y", "type": "quantitative", "scale": {"domain": [-0.0226, 0.9399], "nice": false, "zero": false}, "axis": null},
            "color": {"datum": "Interior region", "scale": {"domain": ["Whole Hudson Bay", "Boundary region", "Interior region", "Whole Hudson Bay (light)", "Boundary region (light)", "Interior region (light)"], "range": ["#800000", "#006000", "#000080", "#ff8040", "#66ff66", "#66b2ff"]}}
          }
        },
        {
          "data": {"name": "fits"},
          "mark": {"type": "line", "strokeWidth": 5, "color": "black", "clip": true},
          "encoding": {
            "x": {"field": "x", "type": "quantitative", "scale": {"domain": [-1.675, 8.748], "nice": false, "zero": false},
                  "axis": {"orient": "top", "values": [-1,0,1,2,3,4,5,6,7,8], "labels": false, "tickSize": -11, "title": null}},
            "y": {"field": "y", "type": "quantitative", "scale": {"domain": [-0.0226, 0.9399], "nice": false, "zero": false},
                  "axis": {"orient": "right", "values": [0,0.1,0.2,0.3,0.4,0.5,0.6,0.7,0.8,0.9], "labels": false, "tickSize": -11, "title": null}},
            "strokeDash": {"field": "fit", "type": "nominal", "scale": {"domain": ["Linear fit for Flushing", "Exponential fit for Flushing"], "range": [[6, 10], [22, 14]]},
                           "legend": {"orient": "none", "legendX": 982.5, "legendY": 245.5, "title": null, "symbolType": "M-8,0L8,0", "symbolStrokeWidth": 6, "symbolSize": 121, "symbolStrokeColor": "black", "labelFont": "Liberation Sans", "labelFontSize": 33, "labelColor": "black", "labelAlign": "right", "labelOffset": -82, "labelLimit": 800, "rowPadding": 0}}
          }
        },
        {
          "data": {"values": [{}]},
          "mark": {"type": "text", "text": "(a)", "fontSize": 50, "align": "left", "baseline": "middle"},
          "encoding": {
            "x": {"datum": -1.308, "type": "quantitative", "scale": {"domain": [-1.675, 8.748], "nice": false, "zero": false}, "axis": null},
            "y": {"datum": 0.869, "type": "quantitative", "scale": {"domain": [-0.0226, 0.9399], "nice": false, "zero": false}, "axis": null}
          }
        }
      ]
    },
    {
      "width": 1106,
      "height": 592,
      "resolve": {"axis": {"x": "independent", "y": "independent"}},
      "layer": [
        {
          "data": {"name": "seasons"},
          "mark": {"type": "rect", "fill": "#c8c8c8", "stroke": "black", "strokeWidth": 1.2},
          "encoding": {
            "x": {"field": "start", "type": "quantitative", "scale": {"domain": [-1.662, 3.016], "nice": false, "zero": false}, "axis": null},
            "x2": {"field": "end"}
          }
        },
        {
          "data": {"name": "seasons"},
          "mark": {"type": "text", "angle": 270, "align": "center", "baseline": "middle", "dy": 29.5, "fontSize": 38},
          "encoding": {
            "x": {"field": "start", "type": "quantitative", "scale": {"domain": [-1.662, 3.016], "nice": false, "zero": false}, "axis": null},
            "y": {"datum": 0.037, "type": "quantitative", "scale": {"domain": [-0.0116, 0.3], "nice": false, "zero": false}, "axis": null},
            "text": {"field": "season"}
          }
        },
        {
          "data": {"name": "Il"},
          "transform": [{"filter": "datum.x <= 2.96"}],
          "mark": {"type": "line", "strokeWidth": 6.5, "clip": true, "color": "#66b2ff", "strokeJoin": "round"},
          "encoding": {
            "x": {"field": "x", "type": "quantitative", "scale": {"domain": [-1.662, 3.016], "nice": false, "zero": false},
                  "axis": {"orient": "bottom", "values": [-1,0,1,2,3], "format": "d", "labelExpr": "datum.value < 0 ? '' : datum.label", "tickSize": -25, "labelPadding": 43, "title": "Years after tracer injection is completed", "titlePadding": 8, "titleX": 517}},
            "y": {"field": "y", "type": "quantitative", "scale": {"domain": [-0.0116, 0.3], "nice": false, "zero": false},
                  "axis": {"orient": "left", "values": [0,0.1,0.2,0.3], "format": ".1~f", "tickSize": -25, "labelPadding": 53, "title": "Fraction of the annual river input", "titlePadding": 20}}
          }
        },
        {
          "data": {"name": "I"},
          "mark": {"type": "line", "strokeWidth": 7, "clip": true, "color": "#000080", "strokeJoin": "round"},
          "encoding": {
            "x": {"field": "x", "type": "quantitative", "scale": {"domain": [-1.662, 3.016], "nice": false, "zero": false},
                  "axis": {"orient": "top", "values": [-1,0,1,2,3], "labels": false, "tickSize": -25, "title": null}},
            "y": {"field": "y", "type": "quantitative", "scale": {"domain": [-0.0116, 0.3], "nice": false, "zero": false},
                  "axis": {"orient": "right", "values": [0,0.1,0.2,0.3], "labels": false, "tickSize": -25, "title": null}}
          }
        },
        {
          "data": {"values": [{}]},
          "mark": {"type": "text", "text": "(b)", "fontSize": 50, "align": "left", "baseline": "middle"},
          "encoding": {
            "x": {"datum": -1.472, "type": "quantitative", "scale": {"domain": [-1.662, 3.016], "nice": false, "zero": false}, "axis": null},
            "y": {"datum": 0.271, "type": "quantitative", "scale": {"domain": [-0.0116, 0.3], "nice": false, "zero": false}, "axis": null}
          }
        }
      ]
    }
  ]
}
